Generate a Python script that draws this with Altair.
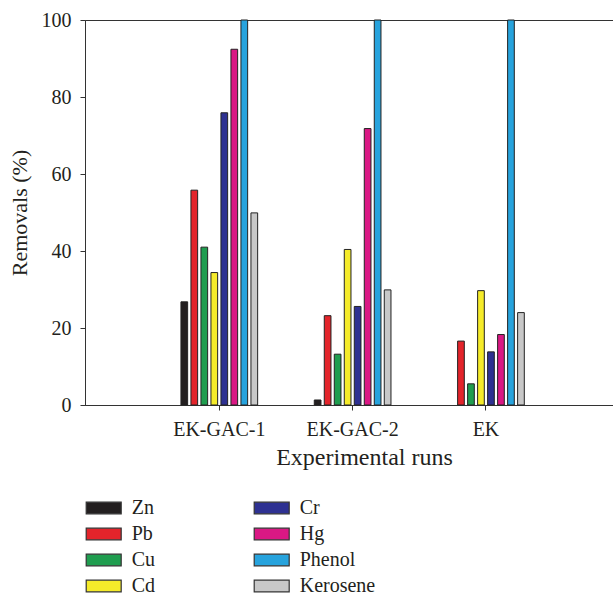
import altair as alt
import pandas as pd

runs = ["EK-GAC-1", "EK-GAC-2", "EK"]
species = ["Zn", "Pb", "Cu", "Cd", "Cr", "Hg", "Phenol", "Kerosene"]
colors = ["#231f20", "#e3242b", "#1f9d4f", "#f5eb2a", "#2e3192", "#da1884", "#27a3dd", "#c8c8c8"]

ek_gac_1 = [26.8, 55.8, 41.0, 34.4, 75.9, 92.4, 100.0, 49.9]
ek_gac_2 = [1.3, 23.2, 13.2, 40.4, 25.6, 71.8, 100.0, 29.9]
ek = [0.0, 16.6, 5.5, 29.7, 13.8, 18.3, 100.0, 24.0]

rows = []
for run, vals in zip(runs, [ek_gac_1, ek_gac_2, ek]):
    for sp, v in zip(species, vals):
        rows.append({"run": run, "species": sp, "removal": v})
df = pd.DataFrame(rows)

FONT = "Liberation Serif, Times New Roman, DejaVu Serif, serif"

chart = alt.Chart(df).transform_filter(
    "datum.removal > 0"
).mark_bar(stroke="#222222", strokeWidth=1).encode(
    x=alt.X(
        "run:N",
        sort=runs,
        scale=alt.Scale(paddingInner=0.4, paddingOuter=0.68, align=0.52),
        axis=alt.Axis(
            title="Experimental runs",
            labelAngle=0,
            tickSize=5,
            labelPadding=9,
            titlePadding=6,
            titleFontSize=24,
            domainColor="#333333",
            tickColor="#333333",
            titleX=279,
        ),
    ),
    xOffset=alt.XOffset(
        "species:N",
        sort=species,
        scale=alt.Scale(paddingInner=0.33, paddingOuter=0.165),
    ),
    y=alt.Y(
        "removal:Q",
        scale=alt.Scale(domain=[0, 100], nice=False),
        axis=alt.Axis(
            title="Removals (%)",
            values=[0, 20, 40, 60, 80, 100],
            tickSize=5,
            labelPadding=9,
            titlePadding=10,
            grid=False,
            domainColor="#333333",
            tickColor="#333333",
        ),
    ),
    color=alt.Color(
        "species:N",
        sort=species,
        scale=alt.Scale(domain=species, range=colors),
        legend=alt.Legend(
            title=None,
            orient="none",
            legendX=8.7,
            legendY=478,
            columns=2,
            columnPadding=96,
            rowPadding=6,
            symbolType="M-3,-1H3V1H-3Z",
            symbolSize=136,
            symbolStrokeColor="#333333",
            symbolStrokeWidth=1.2,
            symbolOpacity=1,
            labelOffset=18,
            labelFont=FONT,
            labelFontSize=20,
            labelColor="#231f20",
            padding=0,
        ),
    ),
).properties(
    width=528,
    height=385,
    autosize="none",
    padding={"left": 85, "top": 20, "right": 0, "bottom": 190},
).configure_view(
    stroke="#333333", strokeWidth=1
).configure_axis(
    labelFont=FONT,
    titleFont=FONT,
    labelFontSize=20,
    titleFontSize=22,
    labelColor="#231f20",
    titleColor="#231f20",
    titleFontWeight="normal",
)

chart.save("out.html", embed_options={"renderer": "svg", "actions": False})
